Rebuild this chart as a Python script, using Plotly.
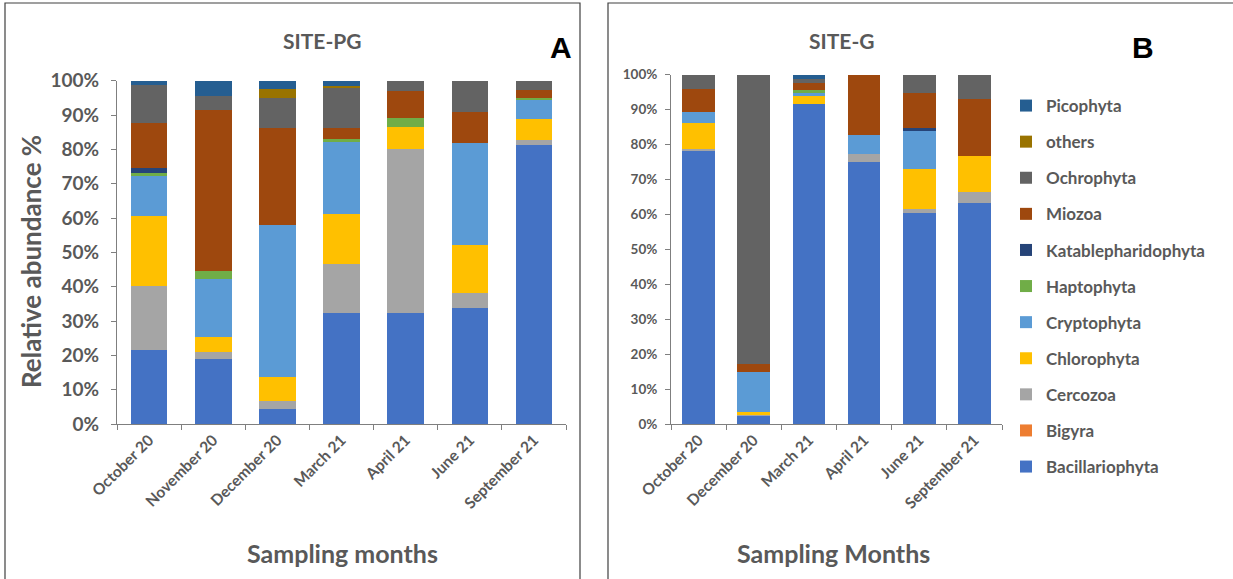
import plotly.graph_objects as go

W, H = 1233, 579

months_pg = ["October 20", "November 20", "December 20", "March 21", "April 21", "June 21", "September 21"]
months_g = ["October 20", "December 20", "March 21", "April 21", "June 21", "September 21"]

series_names = ["Bacillariophyta", "Bigyra", "Cercozoa", "Chlorophyta", "Cryptophyta",
                "Haptophyta", "Katablepharidophyta", "Miozoa", "Ochrophyta", "others", "Picophyta"]
series_colors = ["#4472C4", "#ED7D31", "#A5A5A5", "#FFC000", "#5B9BD5",
                 "#70AD47", "#264478", "#9E480E", "#636363", "#997300", "#255E91"]

# SITE-PG (%), one list per group
pg_bacillariophyta = [21.6, 19.0, 4.5, 32.4, 32.4, 33.8, 81.3]
pg_bigyra = [0, 0, 0, 0, 0, 0, 0]
pg_cercozoa = [18.6, 1.9, 2.3, 14.2, 47.7, 4.5, 1.4]
pg_chlorophyta = [20.4, 4.3, 6.9, 14.6, 6.5, 13.7, 6.2]
pg_cryptophyta = [11.7, 17.0, 44.3, 21.0, 0, 29.8, 5.7]
pg_haptophyta = [0.9, 2.4, 0, 0.9, 2.5, 0, 0.4]
pg_katablepharidophyta = [1.3, 0, 0, 0, 0, 0, 0]
pg_miozoa = [13.1, 46.9, 28.1, 3.2, 7.9, 9.2, 2.3]
pg_ochrophyta = [11.1, 4.1, 8.9, 11.8, 3.0, 9.0, 2.7]
pg_others = [0, 0, 2.7, 0.3, 0, 0, 0]
pg_picophyta = [1.3, 4.4, 2.3, 1.6, 0, 0, 0]

# SITE-G (%)
g_bacillariophyta = [78.4, 2.5, 91.5, 75.1, 60.3, 63.4]
g_bigyra = [0, 0, 0, 0, 0, 0]
g_cercozoa = [0.3, 0.4, 0, 2.2, 1.2, 3.1]
g_chlorophyta = [7.6, 0.4, 2.5, 0, 11.4, 10.2]
g_cryptophyta = [2.9, 11.7, 0.8, 5.3, 11.1, 0]
g_haptophyta = [0, 0, 0.8, 0, 0, 0]
g_katablepharidophyta = [0, 0, 0, 0, 0.7, 0]
g_miozoa = [6.6, 2.2, 2.0, 17.4, 10.0, 16.4]
g_ochrophyta = [4.2, 82.8, 1.2, 0, 5.3, 6.9]
g_others = [0, 0, 0, 0, 0, 0]
g_picophyta = [0, 0, 1.2, 0, 0, 0]

pg_values = [pg_bacillariophyta, pg_bigyra, pg_cercozoa, pg_chlorophyta, pg_cryptophyta,
             pg_haptophyta, pg_katablepharidophyta, pg_miozoa, pg_ochrophyta, pg_others, pg_picophyta]
g_values = [g_bacillariophyta, g_bigyra, g_cercozoa, g_chlorophyta, g_cryptophyta,
            g_haptophyta, g_katablepharidophyta, g_miozoa, g_ochrophyta, g_others, g_picophyta]

FONT = "Lato"
GREY = "#595959"

fig = go.Figure()
n = len(series_names)
for i, (name, color, vals) in enumerate(zip(series_names, series_colors, pg_values)):
    fig.add_trace(go.Bar(x=months_pg, y=vals, name=name, marker=dict(color=color, line=dict(width=0)),
                         xaxis="x", yaxis="y", showlegend=False, legendgroup=name, width=0.57))
for i, (name, color, vals) in enumerate(zip(series_names, series_colors, g_values)):
    fig.add_trace(go.Bar(x=months_g, y=vals, name=name, marker=dict(color=color, line=dict(width=0)),
                         xaxis="x2", yaxis="y2", showlegend=True, legendgroup=name,
                         legendrank=100 + (n - i), width=0.59))

def px_x(p):
    return p / W

def px_y(p):
    return 1 - p / H

axis_common = dict(showline=True, linecolor="#7f7f7f", linewidth=1, ticks="outside",
                   tickcolor="#7f7f7f", ticklen=5, showgrid=False, zeroline=False, automargin=False)

fig.update_layout(
    width=W, height=H,
    margin=dict(l=0, r=0, t=0, b=0),
    paper_bgcolor="white", plot_bgcolor="white",
    barmode="stack",
    font=dict(family=FONT, color=GREY),
    xaxis=dict(domain=[px_x(117), px_x(566)], anchor="y", type="category", tickson="boundaries",
               tickangle=-45, tickfont=dict(size=15.5, weight="bold", color=GREY), **axis_common),
    yaxis=dict(domain=[px_y(424), px_y(80.7)], anchor="x", range=[0, 100], dtick=10, ticksuffix="%",
               ticklabelstandoff=8,
               tickfont=dict(size=19, weight="bold", color=GREY), **axis_common),
    xaxis2=dict(domain=[px_x(671), px_x(1002)], anchor="y2", type="category", tickson="boundaries",
                tickangle=-45, tickfont=dict(size=15.5, weight="bold", color=GREY), **axis_common),
    yaxis2=dict(domain=[px_y(424), px_y(74.7)], anchor="x2", range=[0, 100], dtick=10, ticksuffix="%",
                ticklabelstandoff=5,
                tickfont=dict(size=13.5, weight="bold", color=GREY), **axis_common),
    legend=dict(x=px_x(1006), y=px_y(88), xanchor="left", yanchor="top",
                traceorder="grouped", tracegroupgap=11,
                font=dict(size=17, weight="bold", color=GREY), bgcolor="rgba(0,0,0,0)"),
)

shapes = [
    dict(type="rect", xref="paper", yref="paper", x0=px_x(5), x1=px_x(580), y0=px_y(585), y1=px_y(3),
         line=dict(color="#404040", width=1.2), fillcolor="rgba(0,0,0,0)"),
    dict(type="rect", xref="paper", yref="paper", x0=px_x(608), x1=px_x(1240), y0=px_y(585), y1=px_y(3),
         line=dict(color="#404040", width=1.2), fillcolor="rgba(0,0,0,0)"),
]
fig.update_layout(shapes=shapes)

ann = [
    dict(text="SITE-PG", x=px_x(322), y=px_y(41), font=dict(size=21, weight="bold", color=GREY)),
    dict(text="SITE-G", x=px_x(842), y=px_y(41), font=dict(size=21, weight="bold", color=GREY)),
    dict(text="A", x=px_x(561), y=px_y(48), font=dict(size=30, weight="bold", color="black", family="Liberation Sans")),
    dict(text="B", x=px_x(1143), y=px_y(48), font=dict(size=30, weight="bold", color="black", family="Liberation Sans")),
    dict(text="Relative abundance %", x=px_x(31), y=px_y(262), textangle=-90,
         font=dict(size=26, weight="bold", color=GREY)),
    dict(text="Sampling months", x=px_x(342), y=px_y(553), font=dict(size=25, weight="bold", color=GREY)),
    dict(text="Sampling Months", x=px_x(833), y=px_y(553), font=dict(size=25, weight="bold", color=GREY)),
]
for a in ann:
    a.update(xref="paper", yref="paper", showarrow=False, xanchor="center", yanchor="middle")
fig.update_layout(annotations=ann)

fig.write_html("out.html", config={"displayModeBar": False},
               post_script="document.body.style.margin='0px';")
